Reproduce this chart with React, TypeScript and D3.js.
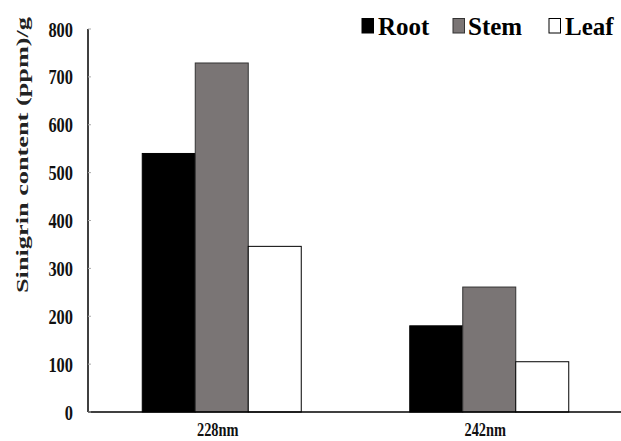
import React from "react";
import * as d3 from "d3";

const categories = ["228nm", "242nm"];
const seriesNames = ["Root", "Stem", "Leaf"];
const rootValues = [540, 180];
const stemValues = [729, 261];
const leafValues = [346, 105];
const yTicks = [0, 100, 200, 300, 400, 500, 600, 700, 800];

const colors: Record<string, string> = { Root: "#000000", Stem: "#7a7575", Leaf: "#ffffff" };
const W = 621;
const H = 441;
const font = "Liberation Serif";

export default function App() {
  const x0 = 88;
  const x1 = 623;
  const yTop = 29;
  const yBot = 412;
  const y = d3.scaleLinear().domain([0, 800]).range([yBot, yTop]);
  const xBand = d3.scaleBand<string>().domain(categories).range([x0, x1]).paddingInner(0).paddingOuter(0);
  const groupW = 159;
  const xInner = d3
    .scaleBand<string>()
    .domain(seriesNames)
    .range([0, groupW])
    .padding(0);
  const values: Record<string, number[]> = { Root: rootValues, Stem: stemValues, Leaf: leafValues };

  const legendPos = [
    { name: "Root", sq: 362, tx: 378 },
    { name: "Stem", sq: 453, tx: 468 },
    { name: "Leaf", sq: 549, tx: 565 },
  ];

  return (
    <svg width={W} height={H} style={{ position: "absolute", left: 0, top: 0, background: "#fff" }}>
      <rect x={0} y={0} width={W} height={H} fill="#fff" />
      {categories.map((c, i) => {
        const gx = (xBand(c) as number) + xBand.bandwidth() / 2 - groupW / 2;
        return (
          <g key={c}>
            {seriesNames.map((s) => {
              const v = values[s][i];
              return (
                <rect
                  key={s}
                  x={gx + (xInner(s) as number)}
                  y={y(v)}
                  width={xInner.bandwidth()}
                  height={yBot - y(v)}
                  fill={colors[s]}
                  stroke={s === "Stem" ? "#333" : "#000"}
                  strokeWidth={1}
                />
              );
            })}
            <text
              transform={`translate(${(xBand(c) as number) + xBand.bandwidth() / 2 - 4},436) scale(0.8,1)`}
              textAnchor="middle"
              style={{ fontFamily: font, fontWeight: 700, fontSize: "18px" }}
              fill="#111"
            >
              {c}
            </text>
          </g>
        );
      })}
      {/* axes */}
      <line x1={x0} x2={x0} y1={yTop} y2={yBot} stroke="#000" strokeWidth={1.5} />
      <line x1={x0} x2={621} y1={yBot} y2={yBot} stroke="#000" strokeWidth={1.5} />
      {yTicks.map((t) => (
        <g key={t}>
          <line x1={x0} x2={x0 + 3} y1={y(t)} y2={y(t)} stroke="#aaa" strokeWidth={1} />
          <text
            transform={`translate(73,${y(t) + 7.5}) scale(0.78,1)`}
            textAnchor="end"
            style={{ fontFamily: font, fontWeight: 700, fontSize: "21px" }}
            fill="#111"
          >
            {t}
          </text>
        </g>
      ))}
      <text
        transform={`translate(28,155) rotate(-90)`}
        textAnchor="middle"
        style={{ fontFamily: font, fontWeight: 700, fontSize: "16px" }}
        fill="#222"
        textLength={276}
        lengthAdjust="spacingAndGlyphs"
      >
        {"Sinigrin  content (ppm)/g"}
      </text>
      {/* legend */}
      {legendPos.map((l) => (
        <g key={l.name}>
          <rect
            x={l.sq}
            y={18.5}
            width={11.5}
            height={14.5}
            fill={colors[l.name]}
            stroke={l.name === "Stem" ? "#333" : "#000"}
            strokeWidth={1}
          />
          <text x={l.tx} y={35} style={{ fontFamily: font, fontWeight: 700, fontSize: "25px" }} fill="#000">
            {l.name}
          </text>
        </g>
      ))}
    </svg>
  );
}
